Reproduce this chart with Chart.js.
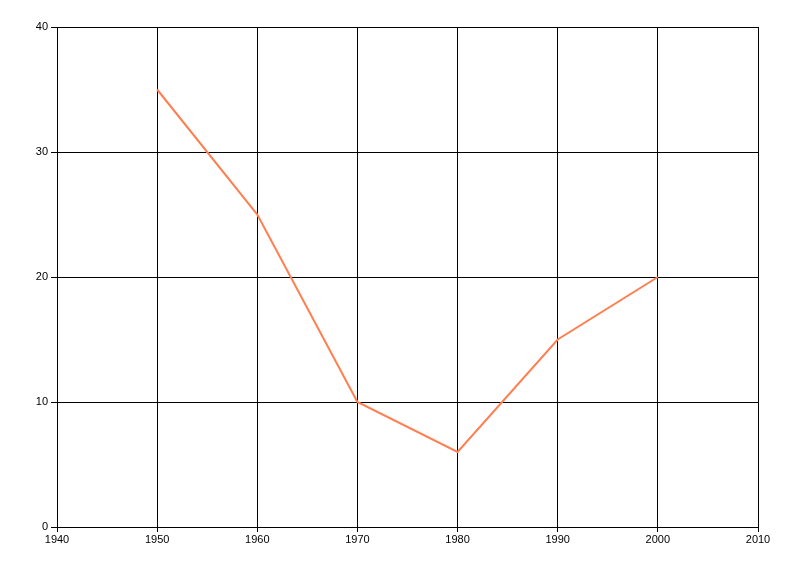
<!DOCTYPE html>
<html>
<head>
<meta charset="utf-8">
<script src="https://cdn.jsdelivr.net/npm/chart.js@4"></script>
<style>
  html, body { margin: 0; padding: 0; background: #fff; }
  #wrap { width: 800px; height: 576px; }
</style>
</head>
<body>
<div id="wrap"><canvas id="chart" width="800" height="576"></canvas></div>
<script>
// datos
const years = [1950, 1960, 1970, 1980, 1990, 2000];
const values = [35, 25, 10, 6, 15, 20];
const xTicks = [1940, 1950, 1960, 1970, 1980, 1990, 2000, 2010];
const yTicks = [0, 10, 20, 30, 40];

Chart.defaults.font.family = '"Liberation Sans", "DejaVu Sans", sans-serif';
Chart.defaults.font.size = 11;
Chart.defaults.color = '#000';

const points = years.map((y, i) => ({ x: y, y: values[i] }));

new Chart(document.getElementById('chart').getContext('2d'), {
    type: 'line',
    data: {
        datasets: [{
            data: points,
            borderColor: '#FF7F50',
            borderWidth: 2,
            pointRadius: 0,
            tension: 0,
            fill: false
        }]
    },
    options: {
        responsive: false,
        animation: false,
        layout: { padding: { left: 0, top: 27, right: 42, bottom: 0 } },
        plugins: {
            legend: { display: false },
            tooltip: { enabled: false }
        },
        scales: {
            x: {
                type: 'linear',
                min: xTicks[0],
                max: xTicks[xTicks.length - 1],
                afterBuildTicks: (s) => { s.ticks = xTicks.map(v => ({ value: v })); },
                afterFit: (s) => { s.height = 49; },
                grid: { color: '#000', lineWidth: 1, tickLength: 5 },
                border: { color: '#000' },
                ticks: { padding: 1, maxRotation: 0, callback: (v) => String(v) }
            },
            y: {
                min: yTicks[0],
                max: yTicks[yTicks.length - 1],
                afterBuildTicks: (s) => { s.ticks = yTicks.map(v => ({ value: v })); },
                afterFit: (s) => { s.width = 57; },
                grid: { color: '#000', lineWidth: 1, tickLength: 6 },
                border: { color: '#000' },
                ticks: { padding: 3 }
            }
        }
    }
});
</script>
</body>
</html>
